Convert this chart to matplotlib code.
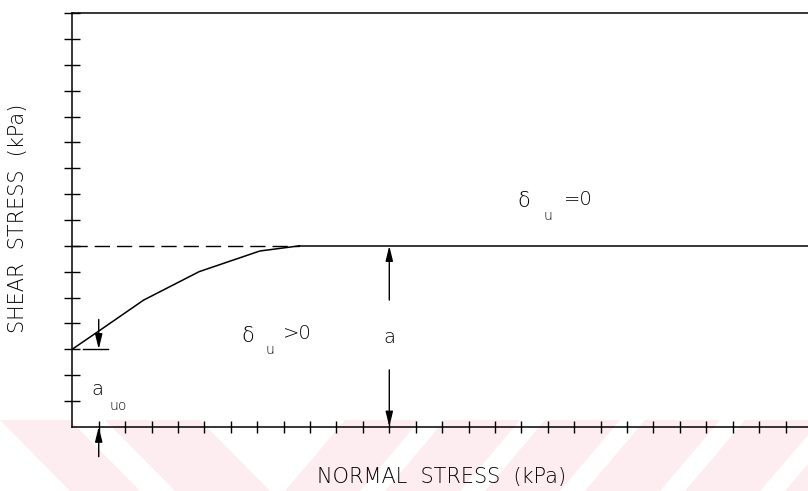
import matplotlib
matplotlib.use('Agg')
import matplotlib.pyplot as plt
from matplotlib.patches import Polygon

plt.rcParams['font.family'] = ['DejaVu Sans']

# envelope data (grid units: 1 unit = one tick)
curve_x = [0.0, 1.0, 2.7, 4.8, 7.1, 8.6]
curve_y = [3.0, 3.7, 4.9, 6.0, 6.8, 7.0]
a_level = 7.0
a_uo = 3.0
x_max = 27.85
y_max = 16
x_ticks = list(range(1, 28))
y_ticks = list(range(1, 17))

fig = plt.figure(figsize=(8.08, 4.91), dpi=100)

# faint pink watermark stripes at the bottom (figure pixel coords)
W, H = 808.0, 491.0
def px(pts):
    return [(x / W, 1 - y / H) for x, y in pts]

stripes = [
    [(0, 420), (70, 420), (140, 491), (70, 491)],
    [(105, 420), (200, 420), (270, 491), (175, 491)],
    [(285, 491), (360, 491), (420, 420), (345, 420)],
    [(385, 491), (460, 491), (520, 420), (445, 420)],
    [(485, 491), (560, 491), (620, 420), (545, 420)],
    [(585, 491), (660, 491), (720, 420), (645, 420)],
    [(685, 491), (760, 491), (808, 435), (808, 420), (745, 420)],
    [(785, 491), (808, 491), (808, 464)],
]
for s in stripes:
    fig.patches.append(Polygon(px(s), closed=True, transform=fig.transFigure,
                               facecolor='#fdedf0', edgecolor='none', zorder=-5))

ax = fig.add_axes([72.3 / W, 1 - 426.7 / H, 1 - 72.3 / W, (426.7 - 13.3) / H])
ax.set_zorder(2)
ax.patch.set_alpha(0)
ax.set_xlim(0, x_max)
ax.set_ylim(0, y_max)
ax.spines['right'].set_visible(False)
for sp in ['left', 'top', 'bottom']:
    ax.spines[sp].set_linewidth(1.1)

ax.set_xticks(x_ticks)
ax.set_yticks(y_ticks)
ax.tick_params(axis='x', direction='inout', length=8.5, width=1, labelbottom=False)
ax.tick_params(axis='y', direction='inout', length=12, width=1, labelleft=False)

# failure envelope
ax.plot(curve_x, curve_y, color='black', lw=1.1)
ax.plot([curve_x[-1], x_max], [a_level, a_level], color='black', lw=1.1, clip_on=False)
ax.plot([0, curve_x[-1]], [a_level, a_level], color='black', lw=1.0,
        linestyle=(0, (11, 5)))

arrow = dict(arrowstyle='-|>,head_length=0.9,head_width=0.22', color='black',
             lw=1, shrinkA=0, shrinkB=0)

# a_uo arrows
ax.annotate('', xy=(1.0, a_uo), xytext=(1.0, 4.15), arrowprops=arrow)
ax.plot([0.4, 1.37], [a_uo, a_uo], color='black', lw=1)
ax.annotate('', xy=(1.0, 0), xytext=(1.0, -1.16), arrowprops=arrow,
            annotation_clip=False)

# a arrows
ax.annotate('', xy=(12, a_level), xytext=(12, 4.9), arrowprops=arrow)
ax.annotate('', xy=(12, 0), xytext=(12, 2.2), arrowprops=arrow)

txt = dict(fontweight='light', ha='center', va='center')
ax.text(12, 3.45, 'a', fontsize=14, **txt)

# text labels
ax.text(0.95, 1.45, 'a', fontsize=14, **txt)
ax.text(1.75, 0.8, 'uo', fontsize=10, **txt)

ax.text(6.65, 3.5, 'δ', fontsize=15, **txt)
ax.text(7.5, 2.95, 'u', fontsize=10, **txt)
ax.text(8.5, 3.6, '>0', fontsize=14, **txt)

ax.text(17.1, 8.75, 'δ', fontsize=15, **txt)
ax.text(18.0, 8.15, 'u', fontsize=10, **txt)
ax.text(19.15, 8.8, '=0', fontsize=14, **txt)

fig.text(442 / W, 1 - 477 / H, 'NORMAL  STRESS  (kPa)', fontsize=15, **txt)
fig.text(18.5 / W, 1 - 218 / H, 'SHEAR  STRESS  (kPa)', fontsize=15,
         rotation=90, **txt)

fig.savefig('out.png', dpi=100)
